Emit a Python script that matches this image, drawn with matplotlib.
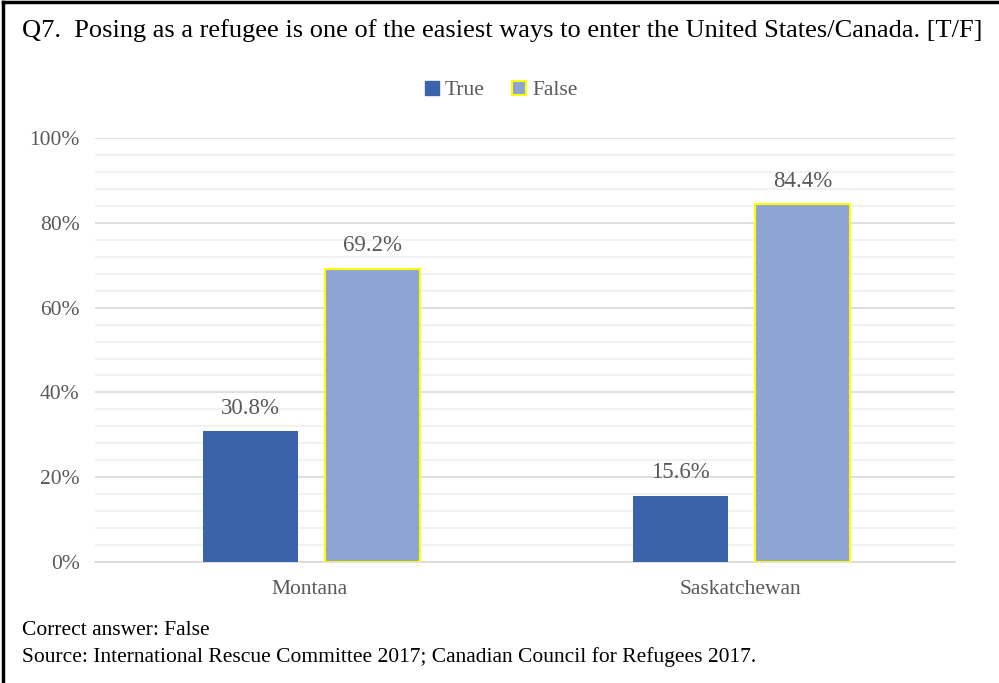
import numpy as np
import matplotlib
matplotlib.use('Agg')
import matplotlib.pyplot as plt
import matplotlib.ticker as ticker
from matplotlib.lines import Line2D

regions = ['Montana', 'Saskatchewan']
true_vals = [0.308, 0.156]
false_vals = [0.692, 0.844]
series_names = ['True', 'False']

plt.rcParams['font.family'] = ['Liberation Serif', 'DejaVu Serif']
grey = '#595959'
c_true = '#3a63ac'
c_false = '#8ea5d4'

fig = plt.figure(figsize=(9.99, 6.83), dpi=100)
ax = fig.add_axes([0.095, 0.177, 0.861, 0.621])

x = np.arange(len(regions))
w = 0.221
off = 0.142
b1 = ax.bar(x - off + 0.004, true_vals, w, color=c_true, zorder=3, label=series_names[0])
b2 = ax.bar(x + off + 0.004, false_vals, w, color=c_false, edgecolor='#ffff00', linewidth=1.5,
            zorder=3, label=series_names[1])

for bars, vals in [(b1, true_vals), (b2, false_vals)]:
    for r, v in zip(bars, vals):
        ax.annotate('%.1f%%' % (v * 100), (r.get_x() + r.get_width() / 2, v),
                    xytext=(0, 9), textcoords='offset points', ha='center', va='bottom',
                    fontsize=16.5, color=grey)

ax.set_xlim(-0.5, 1.5)
ax.set_ylim(0, 1)
ax.yaxis.set_major_locator(ticker.MultipleLocator(0.2))
ax.yaxis.set_minor_locator(ticker.MultipleLocator(0.04))
ax.yaxis.set_major_formatter(ticker.FuncFormatter(lambda v, p: '%d%%' % round(v * 100)))
ax.grid(axis='y', which='major', color='#d9d9d9', lw=1.2, zorder=0)
ax.grid(axis='y', which='minor', color='#f0f0f0', lw=1.2, zorder=0)
ax.set_xticks(x)
ax.set_xticklabels(regions)
ax.tick_params(axis='both', which='both', length=0, labelsize=15.5, labelcolor=grey)
ax.tick_params(axis='y', pad=11)
ax.tick_params(axis='x', pad=13)
for s in ['top', 'right', 'left']:
    ax.spines[s].set_visible(False)
ax.spines['bottom'].set_color('#d9d9d9')
ax.spines['bottom'].set_linewidth(1.2)

handles = [Line2D([], [], marker='s', ls='', markersize=10, markerfacecolor=c_true,
                  markeredgecolor=c_true),
           Line2D([], [], marker='s', ls='', markersize=10, markerfacecolor=c_false,
                  markeredgecolor='#ffff00', markeredgewidth=1.5)]
leg = fig.legend(handles, series_names, loc='center', bbox_to_anchor=(0.5, 0.868), ncol=2,
                 frameon=False, fontsize=15.5, handletextpad=0.1, columnspacing=1.1,
                 handlelength=1.0)
for t in leg.get_texts():
    t.set_color(grey)

fig.text(0.022, 0.955, 'Q7.  Posing as a refugee is one of the easiest ways to enter the United States/Canada. [T/F]',
         fontsize=19, color='black', va='center', ha='left')
fig.text(0.022, 0.077, 'Correct answer: False', fontsize=15.5, va='center')
fig.text(0.022, 0.038, 'Source: International Rescue Committee 2017; Canadian Council for Refugees 2017.',
         fontsize=15.5, va='center')

# frame: only top and left edges
fig.add_artist(Line2D([0.003, 0.003], [0, 0.997], transform=fig.transFigure, color='black', lw=2.5))
fig.add_artist(Line2D([0.003, 1], [0.997, 0.997], transform=fig.transFigure, color='black', lw=2.5))

fig.savefig('out.png', dpi=100)
